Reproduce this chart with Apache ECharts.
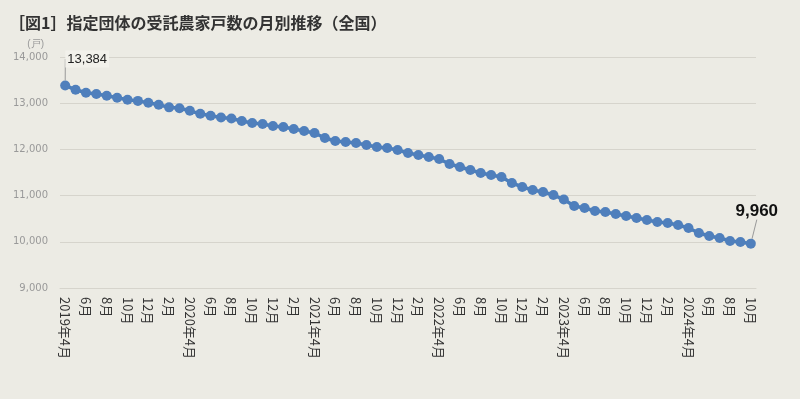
<!DOCTYPE html>
<html lang="ja">
<head>
    <meta charset="UTF-8">
    <title>指定団体の受託農家戸数の月別推移</title>
    <script src="https://cdn.jsdelivr.net/npm/echarts@6/dist/echarts.min.js"></script>
    <style>
        html, body { margin: 0; padding: 0; background: #ecebe4; }
        #chart { width: 800px; height: 399px; }
    </style>
</head>
<body>
<div id="chart"></div>
<script type="text/javascript">
    // 月ラベル（2019年4月〜2024年10月）
    var months = [
        '2019年4月', '5月', '6月', '7月', '8月', '9月', '10月', '11月', '12月', '1月', '2月', '3月',
        '2020年4月', '5月', '6月', '7月', '8月', '9月', '10月', '11月', '12月', '1月', '2月', '3月',
        '2021年4月', '5月', '6月', '7月', '8月', '9月', '10月', '11月', '12月', '1月', '2月', '3月',
        '2022年4月', '5月', '6月', '7月', '8月', '9月', '10月', '11月', '12月', '1月', '2月', '3月',
        '2023年4月', '5月', '6月', '7月', '8月', '9月', '10月', '11月', '12月', '1月', '2月', '3月',
        '2024年4月', '5月', '6月', '7月', '8月', '9月', '10月'
    ];

    // 受託農家戸数（戸）
    var farms = [
        13384, 13290, 13225, 13200, 13160, 13117, 13074, 13050, 13009, 12965, 12910, 12890,
        12835, 12770, 12727, 12690, 12670, 12615, 12571, 12550, 12506, 12485, 12442, 12398,
        12355, 12247, 12182, 12160, 12139, 12095, 12052, 12030, 11987, 11922, 11879, 11835,
        11792, 11684, 11619, 11554, 11489, 11446, 11403, 11273, 11186, 11121, 11078, 11013,
        10915, 10775, 10732, 10667, 10645, 10602, 10558, 10515, 10472, 10429, 10407, 10364,
        10299, 10190, 10126, 10082, 10017, 9996, 9960
    ];

    // 目盛
    var yTicks = [9000, 10000, 11000, 12000, 13000, 14000];

    function fmt(v) {
        return String(v).replace(/\B(?=(\d{3})+(?!\d))/g, ',');
    }

    var lastIdx = farms.length - 1;
    var seriesData = farms.map(function (v, i) {
        var item = { value: v };
        if (i === 0) {
            item.label = {
                show: true, position: 'top', formatter: fmt(v),
                fontSize: 13, color: '#222', backgroundColor: '#f2f1eb', padding: [2, 2]
            };
        } else if (i === lastIdx) {
            item.label = {
                show: true, position: 'top', formatter: fmt(v),
                fontSize: 17, fontWeight: 'bold', color: '#111'
            };
        }
        return item;
    });

    var chart = echarts.init(document.getElementById('chart'));
    var option = {
        backgroundColor: '#ecebe4',
        animation: false,
        title: {
            text: '［図1］指定団体の受託農家戸数の月別推移（全国）',
            left: 4,
            top: 10,
            textStyle: {
                fontFamily: 'Noto Sans CJK JP',
                fontSize: 16,
                fontWeight: 'bold',
                color: '#333'
            }
        },
        grid: { left: 60, right: 44, top: 57, bottom: 111 },
        xAxis: {
            type: 'category',
            data: months,
            boundaryGap: true,
            axisLine: { lineStyle: { color: '#d6d4cc' } },
            axisTick: { show: false },
            axisLabel: {
                interval: 1,
                rotate: -90,
                margin: 9,
                fontSize: 13,
                color: '#333',
                fontFamily: 'Noto Sans CJK JP'
            }
        },
        yAxis: {
            type: 'value',
            name: '(戸)',
            nameLocation: 'end',
            nameGap: 8,
            nameTextStyle: { color: '#999', fontSize: 10, align: 'right', padding: [0, 16, 0, 0] },
            min: yTicks[0],
            max: yTicks[yTicks.length - 1],
            interval: 1000,
            axisLine: { show: false },
            axisTick: { show: false },
            axisLabel: {
                formatter: function (v) { return fmt(v); },
                fontSize: 10,
                color: '#999',
                fontFamily: 'DejaVu Sans',
                margin: 12
            },
            splitLine: { lineStyle: { color: '#d6d4cc' } }
        },
        series: [
            {
                name: '受託農家戸数',
                type: 'line',
                data: seriesData,
                symbol: 'circle',
                symbolSize: 10,
                showSymbol: true,
                showAllSymbol: true,
                lineStyle: { color: '#4a7ebb', width: 3.5 },
                itemStyle: { color: '#4f7fbc' },
                label: { show: false },
                labelLine: { show: true, lineStyle: { color: '#999', width: 1 } },
                labelLayout: function (params) {
                    if (params.dataIndex === 0) {
                        return { dx: 22, dy: -8 };
                    }
                    if (params.dataIndex === lastIdx) {
                        return { dx: 6, dy: -14 };
                    }
                    return {};
                }
            }
        ]
    };
    chart.setOption(option);
</script>
</body>
</html>
